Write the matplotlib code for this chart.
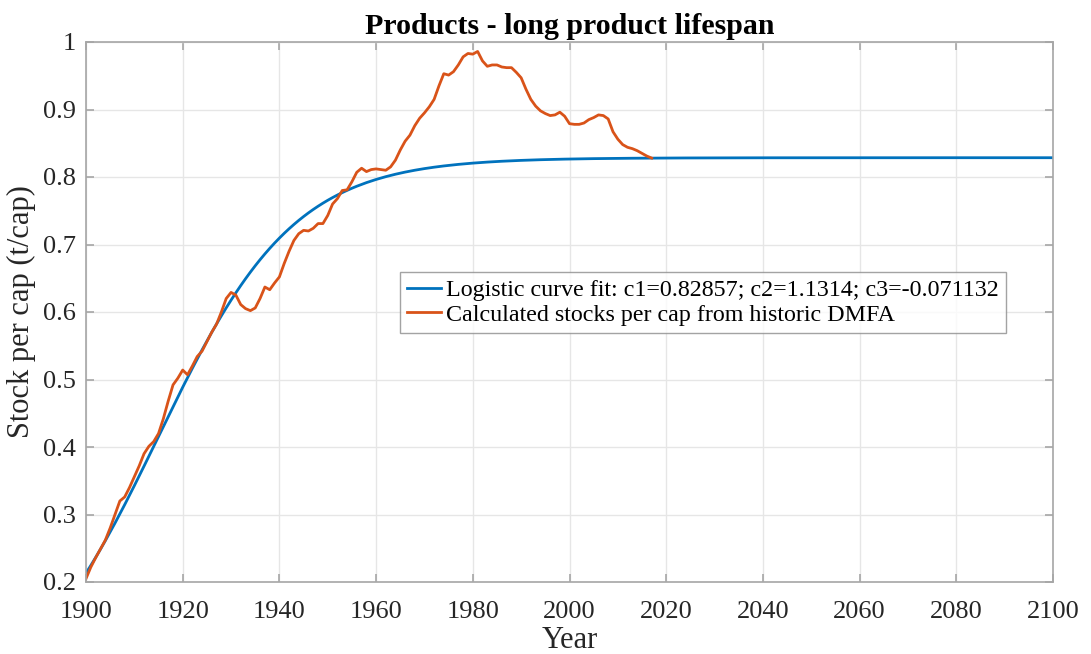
import numpy as np
import matplotlib
matplotlib.use("Agg")
import matplotlib.pyplot as plt

# logistic fit parameters (as given in the legend), t counted from 1 at 1900
c1 = 0.82857
c2 = 1.1314
c3 = -0.071132

fit_years = np.arange(1900, 2101)

# stocks per cap from historic DMFA
hist_years = list(range(1900, 2018))
hist_stock = [
    0.205, 0.222, 0.236, 0.249, 0.262, 0.280, 0.300, 0.320, 0.326, 0.340,
    0.356, 0.372, 0.390, 0.401, 0.408, 0.420, 0.442, 0.468, 0.492, 0.502,
    0.514, 0.507, 0.520, 0.534, 0.542, 0.556, 0.570, 0.582, 0.600, 0.620,
    0.629, 0.625, 0.611, 0.605, 0.602, 0.606, 0.620, 0.637, 0.633, 0.643,
    0.652, 0.672, 0.690, 0.706, 0.716, 0.721, 0.720, 0.724, 0.731, 0.731,
    0.743, 0.760, 0.768, 0.780, 0.781, 0.793, 0.807, 0.813, 0.808, 0.811,
    0.812, 0.811, 0.810, 0.815, 0.825, 0.840, 0.853, 0.862, 0.876, 0.887,
    0.895, 0.904, 0.915, 0.935, 0.953, 0.951, 0.956, 0.966, 0.978, 0.983,
    0.982, 0.986, 0.972, 0.964, 0.966, 0.966, 0.963, 0.962, 0.962, 0.955,
    0.947, 0.930, 0.915, 0.905, 0.898, 0.894, 0.891, 0.892, 0.896, 0.890,
    0.879, 0.878, 0.878, 0.880, 0.885, 0.888, 0.892, 0.891, 0.886, 0.867,
    0.856, 0.848, 0.844, 0.842, 0.839, 0.835, 0.831, 0.828,
]

fit_label = f"Logistic curve fit: c1={c1}; c2={c2}; c3={c3}"
hist_label = "Calculated stocks per cap from historic DMFA"

plt.rcParams['font.family'] = ['Liberation Serif', 'DejaVu Serif']

fig = plt.figure(figsize=(10.91, 6.54), dpi=100)
ax = fig.add_axes([86 / 1091, 1 - 582 / 654, (1053 - 86) / 1091, (582 - 42) / 654])

t = fit_years - 1900 + 1
fit_stock = c1 / (1 + np.exp(c2 + c3 * t))
ax.plot(fit_years, fit_stock, color='#0072BD', lw=2.0, label=fit_label)
ax.plot(hist_years, hist_stock, color='#D95319', lw=2.0, label=hist_label)

ax.set_xlim(1900, 2100)
ax.set_ylim(0.2, 1.0)
ax.set_xticks(np.arange(1900, 2101, 20))
ax.set_yticks(np.arange(0.2, 1.01, 0.1))
ax.set_yticklabels(['0.2', '0.3', '0.4', '0.5', '0.6', '0.7', '0.8', '0.9', '1'])

ax.grid(True, color='#e6e6e6', lw=1.0)
ax.set_axisbelow(True)
for s in ax.spines.values():
    s.set_color('#a6a6a6')
    s.set_linewidth(1.2)
ax.tick_params(direction='in', length=6, width=1.2, color='#a6a6a6',
               labelsize=19, labelcolor='#262626', top=True, right=True)
ax.tick_params(axis='x', pad=14)
ax.tick_params(axis='y', pad=7)

ax.set_xlabel('Year', fontsize=22, color='#262626', labelpad=2)
ax.set_ylabel('Stock per cap (t/cap)', fontsize=22, color='#262626', labelpad=5)
ax.set_title('Products - long product lifespan', fontsize=21.5, fontweight='bold', pad=6)

leg = ax.legend(loc='upper left', bbox_to_anchor=((400 - 86) / 967, (582 - 272) / 540),
                fontsize=17.3, frameon=True, fancybox=False, handlelength=1.4,
                handletextpad=0.2, borderpad=0.3, labelspacing=0.12, borderaxespad=0)
leg.get_frame().set_edgecolor('#8c8c8c')
leg.get_frame().set_linewidth(1.0)

fig.savefig('out.png', dpi=100)
